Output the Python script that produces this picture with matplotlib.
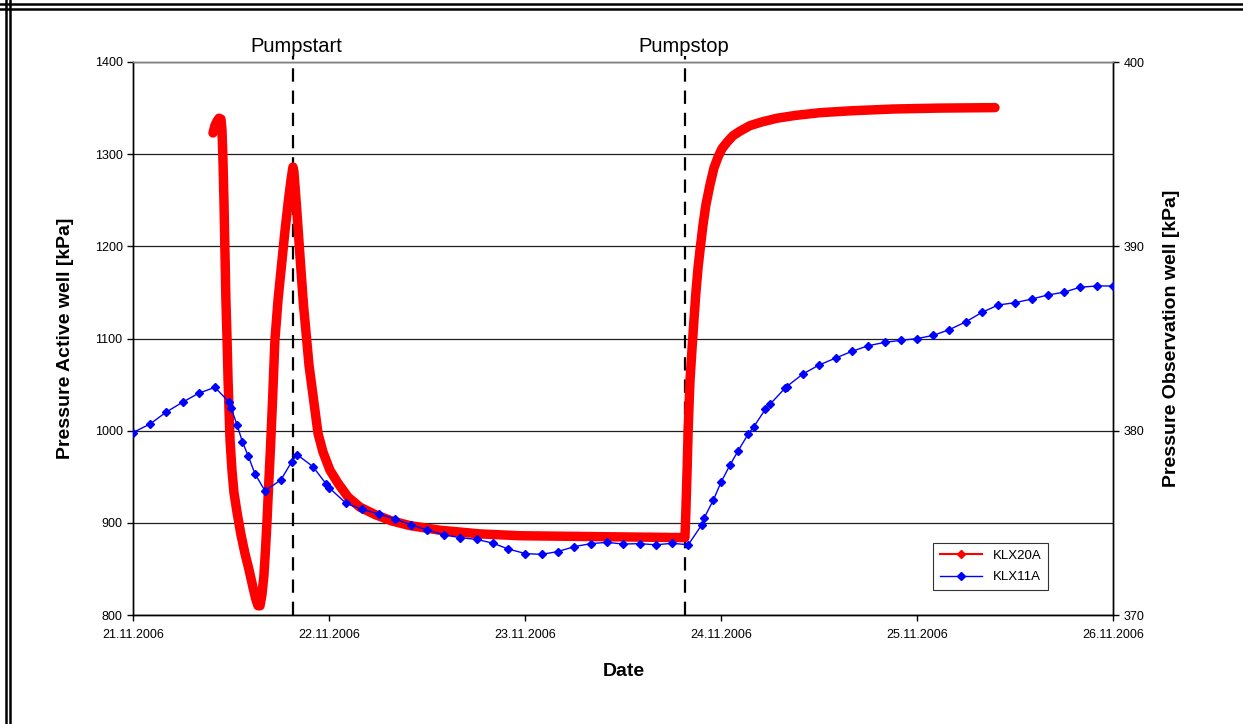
import matplotlib
matplotlib.use("Agg")
import matplotlib.pyplot as plt
import matplotlib.dates as mdates
from matplotlib.lines import Line2D
from datetime import datetime, timedelta

plt.rcParams['font.family'] = ['Liberation Sans', 'DejaVu Sans']

START = datetime(2006, 11, 21)

# KLX20A (active well), time in days after 21.11.2006 00:00, pressure kPa
red_days = [0.408, 0.418, 0.429, 0.439, 0.449, 0.454, 0.459, 0.464, 0.469, 0.474,
            0.480, 0.485, 0.490, 0.495, 0.505, 0.515, 0.531, 0.551, 0.571, 0.592,
            0.612, 0.628, 0.638, 0.648, 0.658, 0.668, 0.676, 0.684, 0.691, 0.702,
            0.712, 0.724, 0.740, 0.757, 0.776, 0.793, 0.806, 0.816, 0.821, 0.832,
            0.844, 0.857, 0.870, 0.883, 0.898, 0.918, 0.944, 0.969, 1.005, 1.046,
            1.097, 1.158, 1.235, 1.321, 1.413, 1.566, 1.770, 1.974, 2.383, 2.801,
            2.816, 2.821, 2.827, 2.832, 2.837, 2.842, 2.852, 2.862, 2.872, 2.883,
            2.893, 2.908, 2.923, 2.944, 2.964, 2.985, 3.005, 3.031, 3.061, 3.097,
            3.148, 3.209, 3.286, 3.378, 3.505, 3.658, 3.878, 4.117, 4.398]
red_kpa = [1323, 1331, 1336, 1339, 1338, 1326, 1294, 1250, 1196, 1142,
           1098, 1055, 1022, 990, 957, 933, 911, 887, 867, 849,
           830, 816, 810, 810, 822, 843, 871, 903, 936, 984,
           1033, 1098, 1142, 1178, 1218, 1250, 1272, 1286, 1281, 1250,
           1214, 1174, 1136, 1106, 1071, 1039, 997, 977, 957, 943,
           928, 917, 909, 902, 897, 892, 888, 886, 885, 884,
           884, 914, 957, 997, 1028, 1055, 1088, 1120, 1150, 1177,
           1196, 1223, 1245, 1267, 1285, 1297, 1306, 1313, 1320, 1325,
           1331, 1335, 1339, 1342, 1345, 1347, 1349, 1350, 1350.5]

# KLX11A (observation well)
blue_days = [0.0, 0.087, 0.168, 0.254, 0.335, 0.418, 0.491, 0.500, 0.531, 0.558,
             0.588, 0.622, 0.673, 0.754, 0.810, 0.837, 0.918, 0.986, 1.0, 1.087,
             1.167, 1.255, 1.337, 1.417, 1.502, 1.587, 1.668, 1.754, 1.835, 1.915,
             2.002, 2.085, 2.167, 2.252, 2.335, 2.417, 2.502, 2.585, 2.668, 2.752,
             2.833, 2.901, 2.913, 2.961, 3.0, 3.046, 3.087, 3.139, 3.168, 3.226,
             3.250, 3.327, 3.335, 3.417, 3.5, 3.585, 3.667, 3.752, 3.835, 3.917,
             3.998, 4.083, 4.165, 4.250, 4.332, 4.415, 4.5, 4.585, 4.667, 4.750,
             4.832, 4.917, 5.0]
blue_kpa = [379.9, 380.36, 381.0, 381.55, 382.03, 382.35, 381.54, 381.25, 380.31, 379.4,
            378.62, 377.67, 376.74, 377.32, 378.32, 378.7, 378.05, 377.1, 376.91, 376.06,
            375.73, 375.48, 375.21, 374.9, 374.61, 374.34, 374.2, 374.1, 373.9, 373.58,
            373.33, 373.29, 373.44, 373.71, 373.87, 373.94, 373.85, 373.87, 373.81, 373.89,
            373.81, 374.88, 375.24, 376.24, 377.2, 378.14, 378.9, 379.82, 380.22, 381.16,
            381.43, 382.31, 382.39, 383.07, 383.56, 383.94, 384.3, 384.61, 384.79, 384.9,
            384.99, 385.17, 385.48, 385.91, 386.42, 386.82, 386.94, 387.14, 387.36, 387.51,
            387.78, 387.85, 387.85]

events = ["Pumpstart", "Pumpstop"]
event_days = [0.816, 2.816]
event_label_days = [0.832, 2.809]


def to_dates(days):
    return [START + timedelta(days=d) for d in days]


fig = plt.figure(figsize=(12.43, 7.24), dpi=100)
ax = fig.add_axes([133 / 1243, 1 - 615 / 724, 980 / 1243, 553 / 724])
ax2 = ax.twinx()

# the logger data is so dense that it shows up as one fat red band
ax.plot(to_dates(red_days), red_kpa, color='red', lw=6.8,
        solid_joinstyle='round', solid_capstyle='round', zorder=3)
ax2.plot(to_dates(blue_days), blue_kpa, color='blue', lw=1, marker='D',
         ms=4.5, zorder=4)

ax.set_xlim(START, START + timedelta(days=5))
ax.set_ylim(800, 1400)
ax2.set_ylim(370, 400)
ax.set_yticks(range(800, 1401, 100))
ax2.set_yticks(range(370, 401, 10))
ax.xaxis.set_major_locator(mdates.DayLocator())
ax.xaxis.set_major_formatter(mdates.DateFormatter('%d.%m.%Y'))

for a in (ax, ax2):
    a.tick_params(direction='out', length=4, width=1, labelsize=9, colors='black')
    for s in a.spines.values():
        s.set_color('black')
        s.set_linewidth(1)
    a.spines['top'].set_color('#808080')
ax.tick_params(axis='x', pad=6)

ax.yaxis.grid(True, color='#202020', lw=0.9)
ax.set_axisbelow(True)

for d in event_days:
    ax.axvline(START + timedelta(days=d), ymin=0, ymax=1.01, color='black',
               lw=1.6, dashes=(6, 4), clip_on=False, zorder=2)
for name, d in zip(events, event_label_days):
    ax.text(START + timedelta(days=d), 1.018, name, transform=ax.get_xaxis_transform(),
            ha='center', va='baseline', fontsize=14.5)

ax.set_xlabel('Date', fontsize=14, fontweight='bold')
ax.xaxis.set_label_coords(0.501, -0.087)
ax.set_ylabel('Pressure Active well [kPa]', fontsize=14, fontweight='bold')
ax.yaxis.set_label_coords(-0.060, 0.5)
ax2.set_ylabel('Pressure Observation well [kPa]', fontsize=14, fontweight='bold')
ax2.yaxis.set_label_coords(1.051, 0.5)

handles = [Line2D([], [], color='red', lw=1.5, marker='D', ms=4.5),
           Line2D([], [], color='blue', lw=1, marker='D', ms=4.5)]
leg = ax2.legend(handles, ['KLX20A', 'KLX11A'], loc='lower left',
                 bbox_to_anchor=((933 - 133) / 980, (615 - 590) / 553),
                 fontsize=9.5, frameon=True, fancybox=False, borderpad=0.5,
                 handlelength=3.2, labelspacing=0.7, borderaxespad=0)
leg.get_frame().set_edgecolor('black')
leg.get_frame().set_linewidth(0.8)

# double frame around the figure (left and top)
for xp in (6 / 1243, 10 / 1243):
    fig.add_artist(Line2D([xp, xp], [0, 1], color='black', lw=1.8,
                          transform=fig.transFigure))
for yp in (1 - 3.5 / 724, 1 - 8.5 / 724):
    fig.add_artist(Line2D([0, 1], [yp, yp], color='black', lw=1.8,
                          transform=fig.transFigure))

fig.savefig('out.png', dpi=100)
